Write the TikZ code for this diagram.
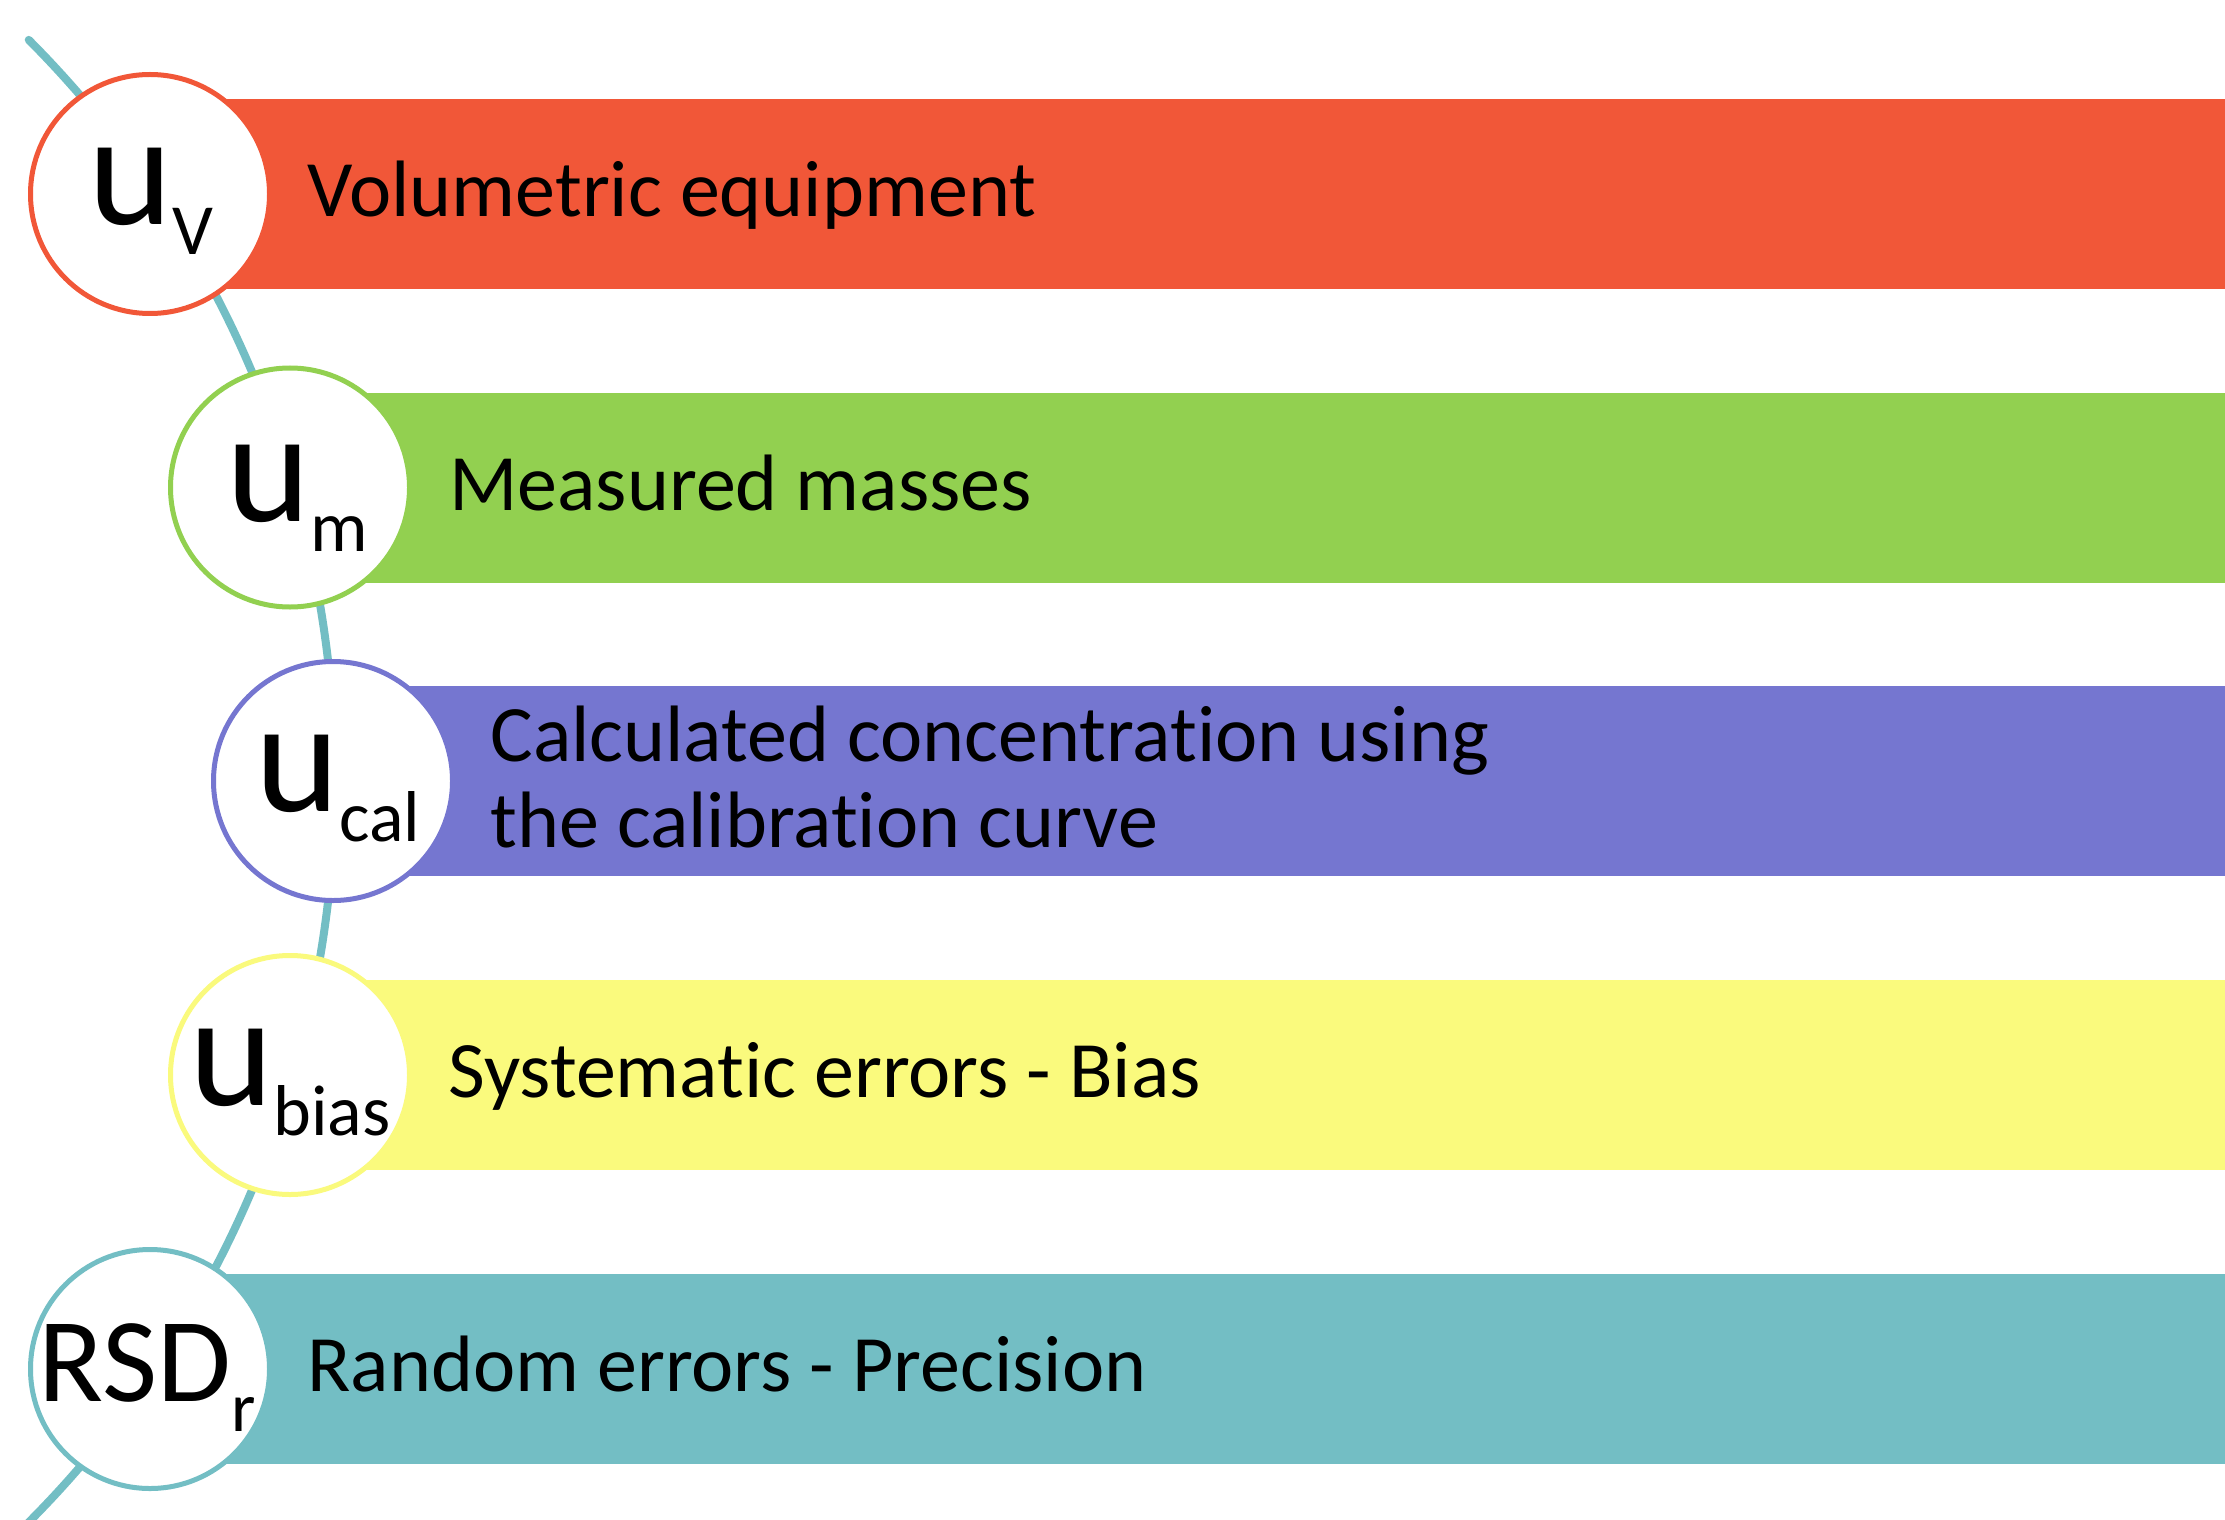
\documentclass[tikz,border=0pt]{standalone}
\usepackage{fontspec}
\setmainfont{Carlito}[Ligatures={NoCommon,NoContextual}]
\definecolor{cred}{RGB}{241,87,56}
\definecolor{cgreen}{RGB}{146,208,80}
\definecolor{cpurple}{RGB}{117,118,208}
\definecolor{cyellow}{RGB}{250,250,125}
\definecolor{cteal}{RGB}{115,190,196}
\tikzset{
  barbox/.style={fill=#1, draw=none, rectangle, inner sep=0pt, outer sep=0pt, anchor=west, minimum height=95pt},
  ring/.style={circle, draw=#1, fill=white, line width=2.5pt, minimum size=119.5pt, inner sep=0pt},
  bartext/.style={anchor=base west, inner sep=0pt, font=\fontsize{40}{43}\selectfont, text=black},
  biglabel/.style={anchor=base, inner sep=0pt, text=black},
  arcline/.style={draw=cteal, line width=4pt, line cap=round}
}
\newcommand{\ulab}[1]{\fontsize{80}{80}\selectfont u\raisebox{-15pt}{\fontsize{36}{36}\selectfont #1}}
\begin{document}
\begin{tikzpicture}[x=0.5pt,y=-0.5pt]
\useasboundingbox (0,0) rectangle (2225,1519);
\begin{scope}
\clip (0,0) rectangle (2225,1519);
% connecting arc
\draw[arcline] (-715,781) ++(-44.9:1050) arc[start angle=-44.9, end angle=46, radius=1050];
% bars
\node[barbox=cred, minimum width=1037.5pt] (b1) at (150,194) {};
\node[barbox=cgreen, minimum width=967.5pt] (b2) at (290,487.5) {};
\node[barbox=cpurple, minimum width=946pt] (b3) at (333,781) {};
\node[barbox=cyellow, minimum width=967.5pt] (b4) at (290,1075) {};
\node[barbox=cteal, minimum width=1037.5pt] (b5) at (150,1369) {};
\end{scope}
% circles
\node[ring=cred] (c1) at (150,194) {};
\node[ring=cgreen] (c2) at (290,487.5) {};
\node[ring=cpurple] (c3) at (333,781) {};
\node[ring=cyellow] (c4) at (290,1075) {};
\node[ring=cteal] (c5) at (150,1369) {};
% circle labels
\node[biglabel] (l1) at (151,225) {\ulab{V}};
\node[biglabel] (l2) at (297,521) {\ulab{m}};
\node[biglabel] (l3) at (338,811) {\ulab{cal}};
\node[biglabel] (l4) at (290,1105) {\ulab{bias}};
\node[biglabel] (l5) at (147,1401) {\fontsize{60}{60}\selectfont RSD\raisebox{-15pt}{\fontsize{35}{35}\selectfont r}};
% bar texts
\node[bartext] (t1) at (307,216.5) {Volumetric equipment};
\node[bartext] (t2) at (449,510) {Measured masses};
\node[bartext] (t3a) at (490,761) {Calculated concentration using};
\node[bartext] (t3b) at (490,847) {the calibration curve};
\node[bartext] (t4) at (448,1097) {Systematic errors - Bias};
\node[bartext] (t5) at (307,1391) {Random errors - Precision};
\end{tikzpicture}
\end{document}
